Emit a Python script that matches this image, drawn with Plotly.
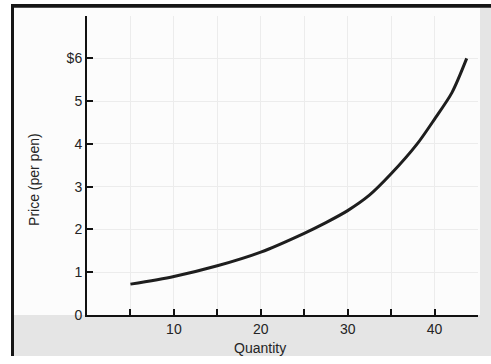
import plotly.graph_objects as go

quantity = [5, 10, 15, 20, 25, 27.5, 30, 32.5, 35, 38, 40, 42, 43.7]
price = [0.72, 0.90, 1.15, 1.47, 1.91, 2.16, 2.44, 2.80, 3.30, 4.00, 4.58, 5.20, 6.0]

x_tick_vals = [5, 10, 15, 20, 25, 30, 35, 40]
x_tick_text = ["", "10", "", "20", "", "30", "", "40"]
y_tick_vals = [0, 1, 2, 3, 4, 5, 6]
y_tick_text = ["0", "1", "2", "3", "4", "5", "$6"]

W, H = 491, 364
PL, PR, PT, PB = 87, 478, 16, 322

def px(x):
    return x / W

def py(y):
    return 1 - y / H

fig = go.Figure()
fig.add_trace(go.Scatter(
    x=quantity, y=price, mode="lines",
    line=dict(color="#1e1e1e", width=3, shape="spline", smoothing=0.8),
    hoverinfo="skip", showlegend=False,
))

font = "Liberation Sans, Arial, sans-serif"
txt = "#242424"
shapes = [
    dict(type="rect", xref="paper", yref="paper", x0=px(12), x1=px(491), y0=py(364), y1=py(6),
         fillcolor="#e5e5e5", line=dict(width=0), layer="below"),
    dict(type="rect", xref="paper", yref="paper", x0=px(12), x1=px(480), y0=py(322), y1=py(6),
         fillcolor="#fcfcfc", line=dict(width=0), layer="below"),
    dict(type="rect", xref="paper", yref="paper", x0=px(11), x1=px(14), y0=py(364), y1=py(4),
         fillcolor="#161616", line=dict(width=0), layer="above"),
    dict(type="rect", xref="paper", yref="paper", x0=px(11), x1=px(491), y0=py(8), y1=py(4),
         fillcolor="#161616", line=dict(width=0), layer="above"),
]

fig.update_layout(
    width=W, height=H, autosize=False,
    margin=dict(l=0, r=0, t=0, b=0),
    paper_bgcolor="white",
    plot_bgcolor="rgba(255,255,255,0)",
    font=dict(family=font, size=14, color=txt),
    shapes=shapes,
    xaxis=dict(
        domain=[px(PL), px(PR)],
        range=[0, 45], tickvals=x_tick_vals, ticktext=x_tick_text,
        ticks="inside", ticklen=6, tickwidth=2, tickcolor="#111",
        showline=True, linecolor="#111", linewidth=2,
        showgrid=True, gridcolor="#ececec", gridwidth=1,
        zeroline=False, fixedrange=True,
    ),
    yaxis=dict(
        domain=[py(PB), py(PT)],
        range=[0, 7], tickvals=y_tick_vals, ticktext=y_tick_text,
        ticks="inside", ticklen=6, tickwidth=2, tickcolor="#111",
        showline=True, linecolor="#111", linewidth=2,
        showgrid=True, gridcolor="#ececec", gridwidth=1,
        zeroline=False, fixedrange=True,
    ),
    annotations=[
        dict(text="Quantity", xref="paper", yref="paper", x=px(260), y=py(356),
             showarrow=False, xanchor="center", yanchor="middle",
             font=dict(family=font, size=14, color=txt)),
        dict(text="Price (per pen)", xref="paper", yref="paper", x=px(34), y=py(184),
             showarrow=False, xanchor="center", yanchor="middle", textangle=-90,
             font=dict(family=font, size=14, color=txt)),
    ],
)

post = (
    "document.documentElement.style.margin='0';"
    "document.documentElement.style.overflow='hidden';"
    "document.body.style.margin='0';"
    "document.body.style.overflow='hidden';"
    "var gd=document.getElementById('{plot_id}');"
    "gd.style.position='fixed';gd.style.left='0px';gd.style.top='0px';"
    "gd.style.width='491px';gd.style.height='364px';"
    "window.scrollTo(0,0);"
)

fig.write_html("out.html", config={"displayModeBar": False, "responsive": False},
               post_script=post)
